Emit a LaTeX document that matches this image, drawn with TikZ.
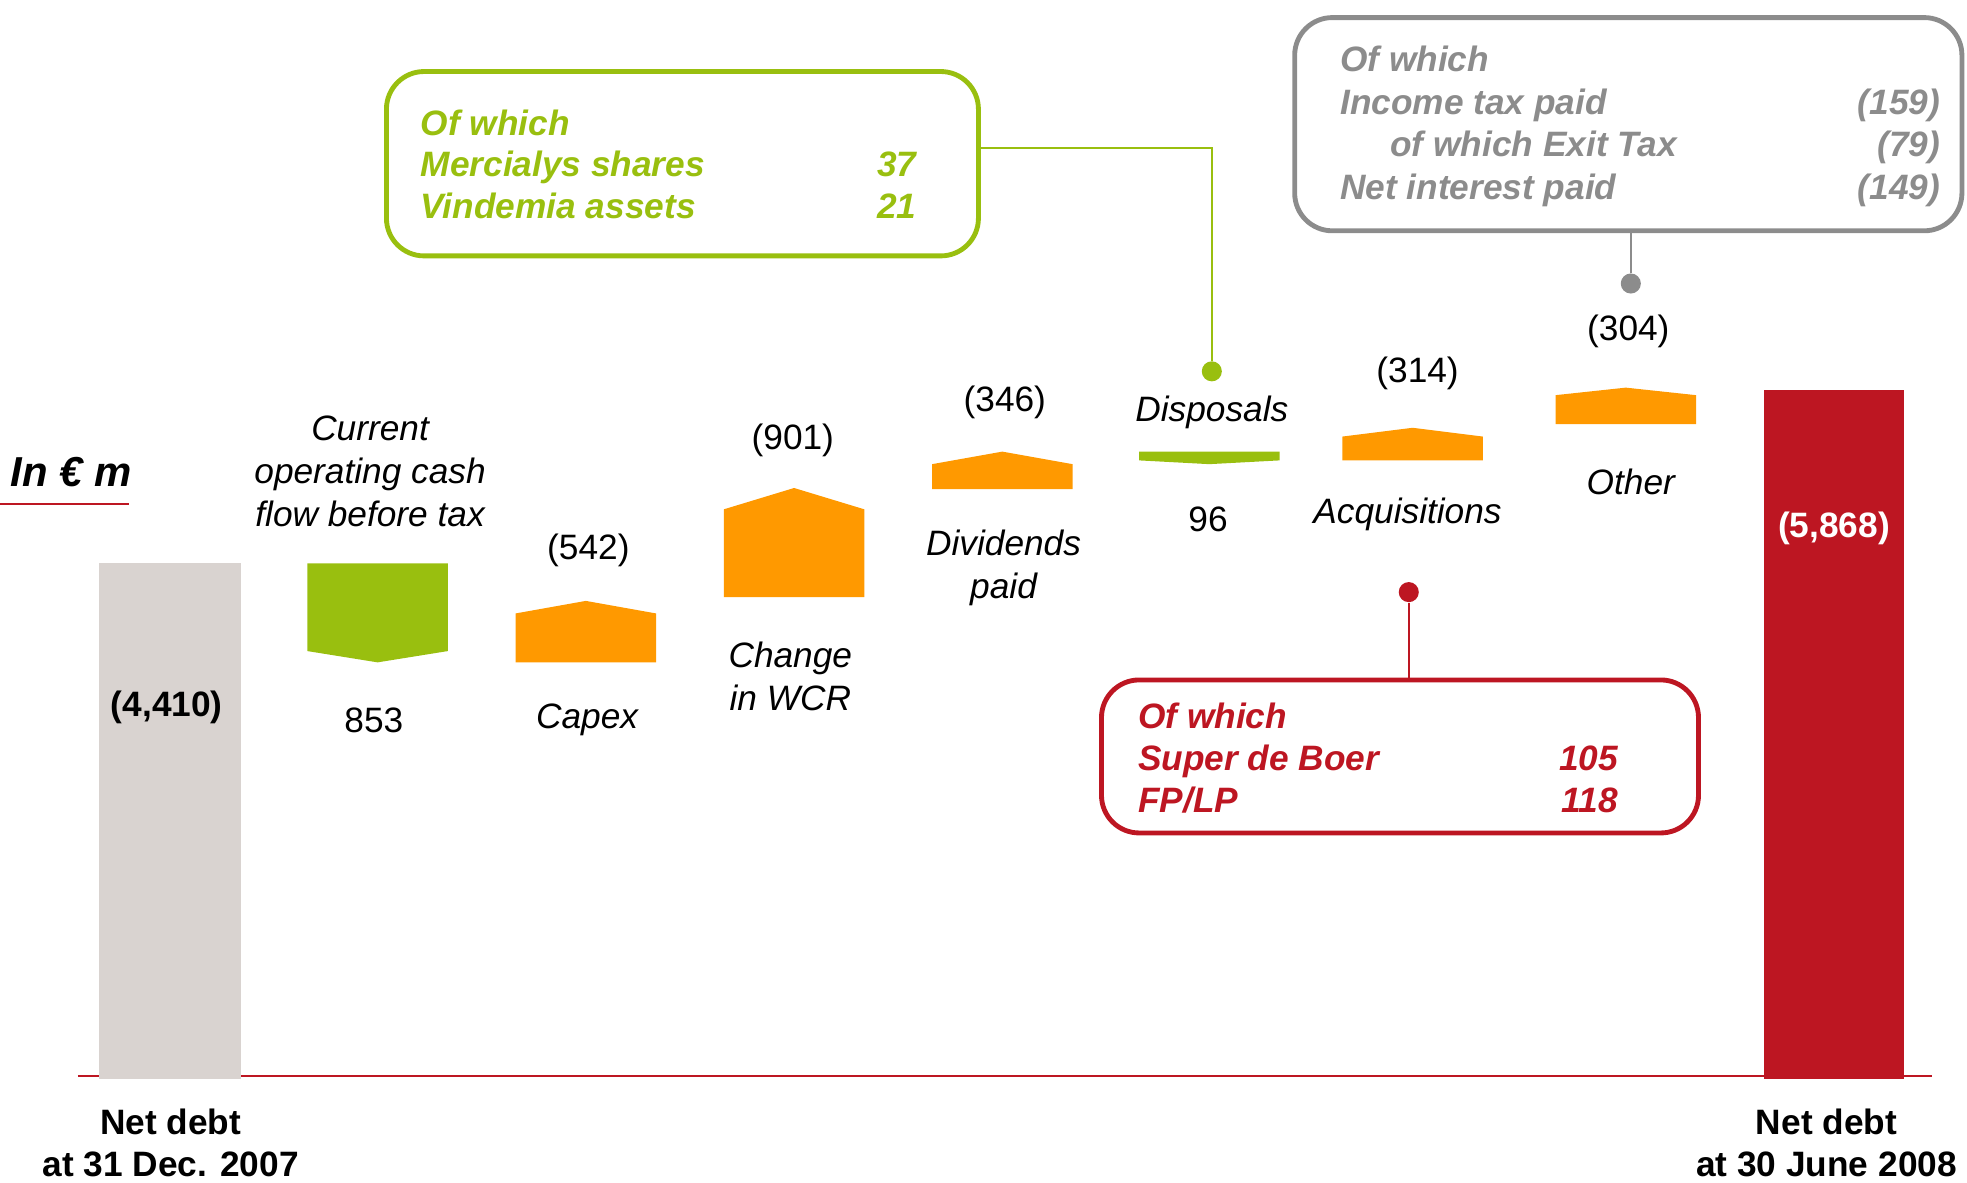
\documentclass[tikz,border=0pt]{standalone}
\usepackage{fontspec}
\setmainfont{Liberation Sans}
\usepackage{tikz}
\usetikzlibrary{calc}
\usepackage{xcolor}
\definecolor{debtgrey}{RGB}{217,211,208}
\definecolor{cashgreen}{RGB}{153,191,15}
\definecolor{outorange}{RGB}{255,153,0}
\definecolor{debtred}{RGB}{189,22,34}
\definecolor{notegrey}{RGB}{140,140,140}

\begin{document}
\begin{tikzpicture}[x=0.02cm, y=-0.02cm,
        lbl/.style={inner sep=0pt, align=center, font=\fontsize{16}{19.5}\selectfont},
        cat/.style={lbl, font=\fontsize{16}{19.5}\selectfont\itshape},
        total/.style={lbl, font=\fontsize{16}{19}\selectfont\bfseries},
        callout/.style={draw, rounded corners=0.6cm, line width=2.2pt, inner sep=0pt},
        boxtxt/.style={inner sep=0pt, font=\fontsize{16}{19.5}\selectfont\bfseries\itshape},
        pin/.style={circle, inner sep=0pt, minimum size=0.32cm},
        link/.style={line width=0.9pt}
    ]
        \useasboundingbox (0,0) rectangle (1568,943);

        % Axis line and unit
        \draw[debtred, line width=0.8pt] (62,858) -- (1540,858);
        \node[inner sep=0pt, font=\fontsize{19}{22}\selectfont\bfseries\itshape] (unit) at (57,376) {In € m};
        \draw[debtred, line width=0.9pt] (0,402) -- (103,402);

        % Bars
        \fill[debtgrey] (79,449) rectangle (192,860);
        \fill[cashgreen] (245,449) -- (357,449) -- (357,519) -- (301,528) -- (245,519) -- cycle;
        \fill[outorange] (411,528) -- (411,489) -- (467,479) -- (523,489) -- (523,528) -- cycle;
        \fill[outorange] (577,476) -- (577,406) -- (633,389) -- (689,406) -- (689,476) -- cycle;
        \fill[outorange] (743,390) -- (743,370) -- (799,360) -- (855,370) -- (855,390) -- cycle;
        \fill[cashgreen] (908,360) -- (1020,360) -- (1020,367) -- (964,370) -- (908,367) -- cycle;
        \fill[outorange] (1070,367) -- (1070,348) -- (1126,341) -- (1182,348) -- (1182,367) -- cycle;
        \fill[outorange] (1240,338) -- (1240,315) -- (1296,309) -- (1352,315) -- (1352,338) -- cycle;
        \fill[debtred] (1406,311) rectangle (1518,860);

        % Values and captions
        \node[total] (start) at (133,564) {(4,410)};
        \node[total, text=white] (end) at (1462,421) {(5,868)};

        \node[cat] (opcash) at (295,376) {Current\\operating cash\\flow before tax};
        \node[lbl] (v853) at (298,574) {853};
        \node[lbl] (v542) at (469,439) {(542)};
        \node[cat] (capex) at (468,574) {Capex};
        \node[lbl] (v901) at (632,351) {(901)};
        \node[cat] (wcr) at (630,539) {Change\\in WCR};
        \node[lbl] (v346) at (801,321) {(346)};
        \node[cat] (divs) at (800,453) {Dividends\\paid};
        \node[cat] (disp) at (966,329) {Disposals};
        \node[lbl] (v96) at (963,414) {96};
        \node[lbl] (v314) at (1130,298) {(314)};
        \node[cat] (acq) at (1122,410) {Acquisitions};
        \node[lbl] (v304) at (1298,264) {(304)};
        \node[cat] (other) at (1300,384) {Other};

        \node[total] (netstart) at (136,911) {Net debt\\at 31 Dec. 2007};
        \node[total] (netend) at (1456,911) {Net debt\\at 30 June 2008};

        % Call-out boxes
        \node[callout, draw=cashgreen, minimum width=9.44cm, minimum height=2.94cm] (gbox) at (544,130.5) {};
        \node[boxtxt, text=cashgreen, anchor=base west] (g1) at (335,108) {Of which};
        \node[boxtxt, text=cashgreen, anchor=base west] (g2) at (335,141) {Mercialys shares};
        \node[boxtxt, text=cashgreen, anchor=base east] (g2v) at (731,141) {37};
        \node[boxtxt, text=cashgreen, anchor=base west] (g3) at (335,174) {Vindemia assets};
        \node[boxtxt, text=cashgreen, anchor=base east] (g3v) at (731,174) {21};

        \node[callout, draw=notegrey, minimum width=10.64cm, minimum height=3.4cm] (ybox) at (1298,99) {};
        \node[boxtxt, text=notegrey, anchor=base west] (y1) at (1068,57) {Of which};
        \node[boxtxt, text=notegrey, anchor=base west] (y2) at (1068,91) {Income tax paid};
        \node[boxtxt, text=notegrey, anchor=base east] (y2v) at (1547,91) {(159)};
        \node[boxtxt, text=notegrey, anchor=base west] (y3) at (1108,125) {of which Exit Tax};
        \node[boxtxt, text=notegrey, anchor=base east] (y3v) at (1547,125) {(79)};
        \node[boxtxt, text=notegrey, anchor=base west] (y4) at (1068,159) {Net interest paid};
        \node[boxtxt, text=notegrey, anchor=base east] (y4v) at (1547,159) {(149)};

        \node[callout, draw=debtred, minimum width=9.52cm, minimum height=2.44cm] (rbox) at (1116,603) {};
        \node[boxtxt, text=debtred, anchor=base west] (r1) at (907,581) {Of which};
        \node[boxtxt, text=debtred, anchor=base west] (r2) at (907,614) {Super de Boer};
        \node[boxtxt, text=debtred, anchor=base east] (r2v) at (1290,614) {105};
        \node[boxtxt, text=debtred, anchor=base west] (r3) at (907,648) {FP/LP};
        \node[boxtxt, text=debtred, anchor=base east] (r3v) at (1290,648) {118};

        % Pins
        \node[pin, fill=cashgreen] (gdot) at (966,296) {};
        \node[pin, fill=debtred] (rdot) at (1123,472) {};
        \node[pin, fill=notegrey] (ydot) at (1300,226) {};
        \coordinate (gknee) at (780,118);

        \draw[link, cashgreen] (gdot) |- (gknee);
        \draw[link, debtred] (rdot) -- (rdot |- rbox.north);
        \draw[link, notegrey] (ydot) -- (ydot |- ybox.south);
\end{tikzpicture}
\end{document}
